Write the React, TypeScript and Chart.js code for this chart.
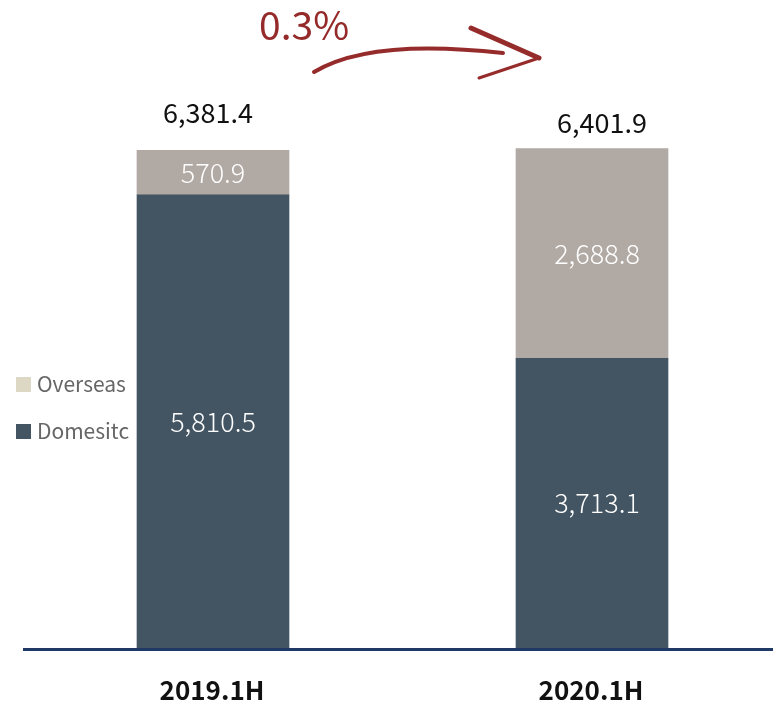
import React, { useEffect, useRef } from "react";
import { Chart, registerables } from "chart.js";

Chart.register(...registerables);

const categories = ["2019.1H", "2020.1H"];
const domestic = [5810.5, 3713.1];
const overseas = [570.9, 2688.8];
const totals = [6381.4, 6401.9];
const growthLabel = "0.3%";
const legendNames = ["Overseas", "Domesitc"];

const DOM_COLOR = "#435563";
const OVS_COLOR = "#b1a9a4";
const OVS_LEGEND = "#ddd8c4";
const FONT = "'Noto Sans CJK SC', 'Noto Sans', sans-serif";

const fmt = (v: number) =>
  v.toLocaleString("en-US", { minimumFractionDigits: 1, maximumFractionDigits: 1 });

const overlay = {
  id: "overlay",
  afterDatasetsDraw(chart: any) {
    const ctx = chart.ctx;
    const area = chart.chartArea;
    ctx.save();
    // axis line
    ctx.strokeStyle = "#1e3a64";
    ctx.lineWidth = 3;
    ctx.beginPath();
    ctx.moveTo(23, area.bottom + 1.5);
    ctx.lineTo(chart.width, area.bottom + 1.5);
    ctx.stroke();

    // segment labels
    ctx.textAlign = "center";
    ctx.textBaseline = "middle";
    ctx.fillStyle = "#ffffff";
    ctx.font = `300 27px ${FONT}`;
    chart.data.datasets.forEach((ds: any, di: number) => {
      const meta = chart.getDatasetMeta(di);
      meta.data.forEach((el: any, i: number) => {
        const shift = i === 1 ? 5 : 0;
        ctx.fillText(fmt(ds.data[i]), el.x + shift, (el.y + el.base) / 2);
      });
    });

    // totals
    ctx.fillStyle = "#111111";
    ctx.font = `27px ${FONT}`;
    const topMeta = chart.getDatasetMeta(1);
    const tOff = [
      [-5, -38],
      [10, -26],
    ];
    topMeta.data.forEach((el: any, i: number) => {
      ctx.fillText(fmt(totals[i]), el.x + tOff[i][0], el.y + tOff[i][1]);
    });

    // category labels
    ctx.font = `bold 26px ${FONT}`;
    topMeta.data.forEach((el: any, i: number) => {
      ctx.fillText(categories[i], el.x - 1, area.bottom + 42);
    });

    // legend
    ctx.textAlign = "left";
    ctx.font = `21px ${FONT}`;
    const legendColors = [OVS_LEGEND, DOM_COLOR];
    const ly = [384, 431];
    legendNames.forEach((n, i) => {
      ctx.fillStyle = legendColors[i];
      ctx.fillRect(16, ly[i] - 7, 15, 15);
      ctx.fillStyle = "#666666";
      ctx.fillText(n, 37, ly[i]);
    });

    // growth label and arrow
    ctx.fillStyle = "#952a2a";
    ctx.font = `39px ${FONT}`;
    ctx.textAlign = "left";
    ctx.textBaseline = "alphabetic";
    ctx.fillText(growthLabel, 259, 40);

    ctx.strokeStyle = "#962b2b";
    ctx.lineCap = "round";
    ctx.lineJoin = "round";
    ctx.lineWidth = 4;
    ctx.beginPath();
    ctx.moveTo(314, 72);
    ctx.quadraticCurveTo(370, 38, 503, 53);
    ctx.stroke();
    ctx.lineWidth = 5;
    ctx.beginPath();
    ctx.moveTo(471, 28);
    ctx.lineTo(539, 58);
    ctx.stroke();
    ctx.lineWidth = 3;
    ctx.beginPath();
    ctx.moveTo(539, 58);
    ctx.lineTo(479, 78);
    ctx.stroke();
    ctx.restore();
  },
};

export default function App() {
  const ref = useRef<HTMLCanvasElement>(null);
  useEffect(() => {
    if (!ref.current) return;
    const chart = new Chart(ref.current, {
      type: "bar",
      data: {
        labels: categories,
        datasets: [
          { label: "Domesitc", data: domestic, backgroundColor: DOM_COLOR, barThickness: 152 },
          { label: "Overseas", data: overseas, backgroundColor: OVS_COLOR, barThickness: 152 },
        ],
      },
      options: {
        responsive: false,
        animation: false,
        devicePixelRatio: 1,
        layout: { padding: { left: 23.5, right: 8.5, top: 24, bottom: 55 } },
        plugins: { legend: { display: false }, tooltip: { enabled: false } },
        scales: {
          x: { stacked: true, display: false },
          y: { stacked: true, display: false, min: 0, max: 8000 },
        },
      },
      plugins: [overlay],
    });
    return () => chart.destroy();
  }, []);
  return (
    <div
      style={{
        position: "absolute",
        left: 0,
        top: 0,
        width: 773,
        height: 703,
        overflow: "hidden",
        background: "#ffffff",
      }}
    >
      <canvas ref={ref} width={790} height={703} />
    </div>
  );
}
